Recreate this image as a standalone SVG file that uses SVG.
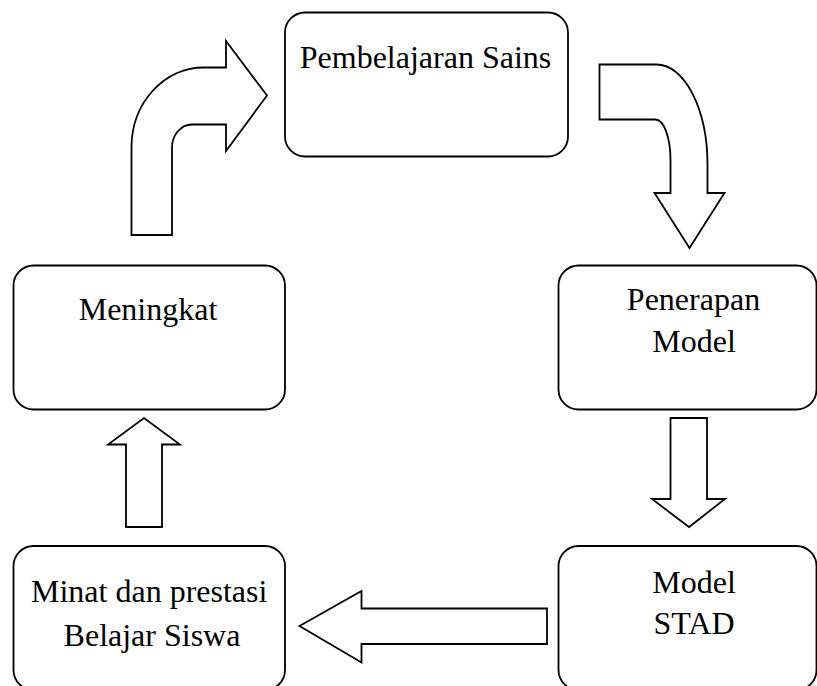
<svg xmlns="http://www.w3.org/2000/svg" width="817" height="686" viewBox="0 0 817 686">
<style>
.box{fill:#fff;stroke:#000;stroke-width:1.8}
.arr{fill:#fff;stroke:#000;stroke-width:1.8;stroke-linejoin:miter}
text{font-family:"Liberation Serif","Times New Roman",serif;font-size:32px;fill:#000;text-anchor:middle}
</style>
<rect width="817" height="686" fill="#fff"/>
<g id="node-pembelajaran">
<rect class="box" x="285" y="12.5" width="283" height="144" rx="20"/>
<text x="425.5" y="68">Pembelajaran Sains</text>
</g>
<g id="node-penerapan">
<rect class="box" x="558.5" y="265.5" width="258" height="144" rx="20"/>
<text x="693.5" y="310">Penerapan</text>
<text x="694" y="351.5">Model</text>
</g>
<g id="node-stad">
<rect class="box" x="558.5" y="546" width="258" height="144" rx="20"/>
<text x="694" y="593">Model</text>
<text x="694" y="634">STAD</text>
</g>
<g id="node-minat">
<rect class="box" x="13.5" y="546" width="271.5" height="144" rx="20"/>
<text x="149.2" y="601.5">Minat dan prestasi</text>
<text x="152" y="646">Belajar Siswa</text>
</g>
<g id="node-meningkat">
<rect class="box" x="13.5" y="265.5" width="271.5" height="144" rx="20"/>
<text x="148" y="320">Meningkat</text>
</g>
<g id="connectors">
<path class="arr" d="M131.5,235 L131.5,147 A72,80 0 0 1 203.5,67.5 L226,67.5 L226,41 L267,95.5 L226,151 L226,124.5 L192,124.5 A20,23 0 0 0 172,147.5 L172,235 Z"/>
<path class="arr" d="M599.5,64.5 L656.5,64.5 A51,100 0 0 1 707.5,164.5 L707.5,193 L724.5,193 L689.5,248 L654.5,193 L670.5,193 L670.5,160 A15,40.5 0 0 0 655.5,119.5 L599.5,119.5 Z"/>
<path class="arr" d="M670.5,418 L707,418 L707,499 L725,499 L689,527 L652,499 L670.5,499 Z"/>
<path class="arr" d="M547,608.5 L547,644 L361.5,644 L361.5,662.5 L299.5,626 L361.5,591 L361.5,608.5 Z"/>
<path class="arr" d="M126,527 L126,444.5 L108,444.5 L144,418 L180,444.5 L162,444.5 L162,527 Z"/>
</g>
</svg>
